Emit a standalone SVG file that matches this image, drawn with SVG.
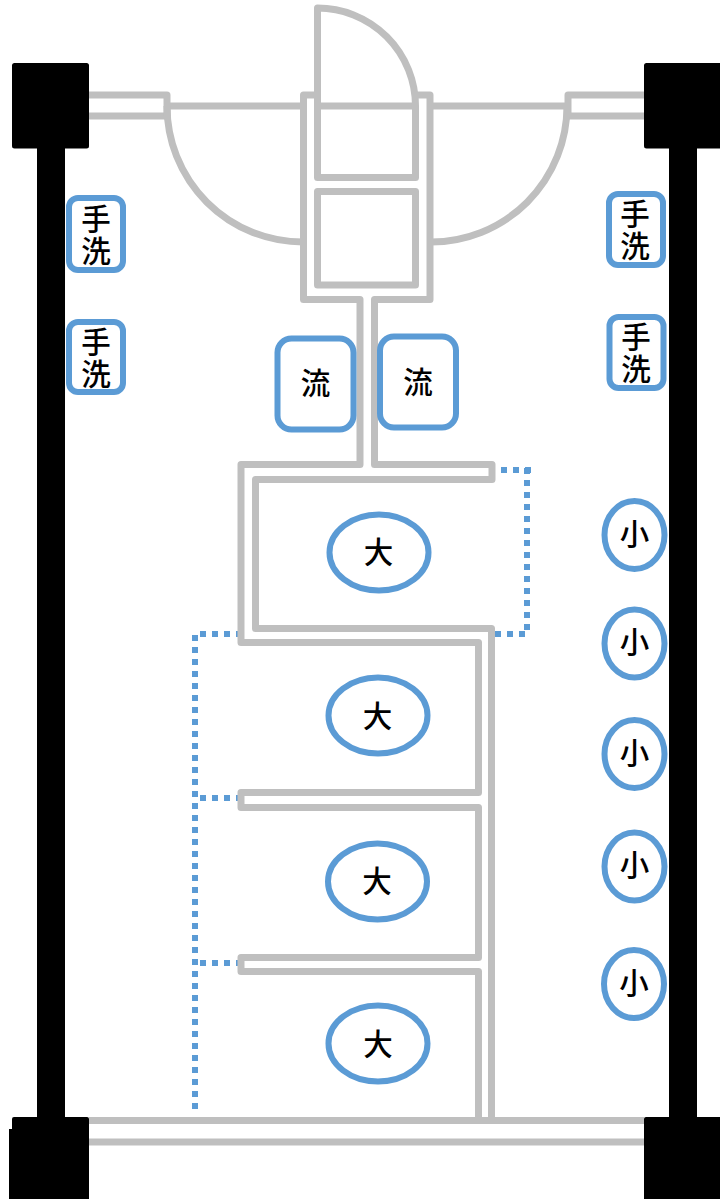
<svg xmlns="http://www.w3.org/2000/svg" width="720" height="1199" viewBox="0 0 720 1199">
<style>
.w{fill:none;stroke:#bfbfbf;stroke-width:7;stroke-linejoin:round;stroke-linecap:butt}
.d{fill:none;stroke:#5b9bd5;stroke-width:6;stroke-dasharray:6 6}
.b{fill:#000}
.n{fill:#fff;stroke:#5b9bd5;stroke-width:6}
.t{font-family:"Noto Sans CJK JP","Noto Sans",sans-serif;font-size:29.500px;font-weight:500;fill:#000;text-anchor:middle}
</style>
<rect width="720" height="1199" fill="#fff"/>
<g id="connectors">
<g id="dotted">
<path class="d" d="M489 470H531"/>
<path class="d" d="M527 468V630"/>
<path class="d" d="M525 634H495"/>
<path class="d" d="M200 634H238"/>
<path class="d" d="M195 635V1109"/>
<path class="d" d="M200 798H238"/>
<path class="d" d="M200 963H238"/>
</g>
<g id="walls">
<path class="w" d="M89 95H167V116M89 116H167"/>
<path class="w" d="M644 95H568V116M644 116H568"/>
<path class="w" d="M167 106H300M317 106H415M433 106H568"/>
<path class="w" d="M167 106A136 136 0 0 0 303 242"/>
<path class="w" d="M567 106A136 136 0 0 1 431 242"/>
<path class="w" d="M415.500 106A98 98 0 0 0 317.500 8V177.500H415.500V106"/>
<path class="w" d="M317.500 95H303.500V299.500H360V464.500H241V642.500H478.500V792.500H241V807.500H478.500V957.500H241V971.500H478.500V1121"/>
<path class="w" d="M415.500 95H430V299.500H374.500V464.500H492V479.500H255.500V628.500H491.500V1121"/>
<rect class="w" x="317.500" y="191.500" width="98" height="93.500"/>
<path class="w" d="M89 1120.500H644M89 1142H644"/>
</g>
</g>
<g id="pillars">
<rect class="b" x="37" y="100" width="28" height="1040"/>
<rect class="b" x="669" y="100" width="28" height="1040"/>
<rect class="b" x="12" y="63" width="77" height="85.500" rx="2.500"/>
<rect class="b" x="644" y="63" width="78" height="85.500" rx="2.500"/>
<path class="b" d="M12 1119Q12 1117 14 1117H87Q89 1117 89 1119V1199H9V1129H12Z"/>
<path class="b" d="M644 1119Q644 1117 646 1117H720V1199H644Z"/>
</g>
<g id="wash-left-1"><rect class="n" x="69" y="198" width="54" height="72" rx="9"/><text class="t" x="96" y="230">手<tspan x="96" y="262">洗</tspan></text></g>
<g id="wash-left-2"><rect class="n" x="69" y="322" width="54" height="70" rx="9"/><text class="t" x="96" y="353">手<tspan x="96" y="385">洗</tspan></text></g>
<g id="wash-right-1"><rect class="n" x="609" y="194" width="54" height="71" rx="9"/><text class="t" x="635" y="225">手<tspan x="635" y="257">洗</tspan></text></g>
<g id="wash-right-2"><rect class="n" x="609.500" y="317" width="54" height="71" rx="9"/><text class="t" x="636" y="348">手<tspan x="636" y="380">洗</tspan></text></g>
<g id="sink-1"><rect class="n" x="277.500" y="338.500" width="76" height="91" rx="14"/><text class="t" x="315.500" y="394">流</text></g>
<g id="sink-2"><rect class="n" x="380" y="336.500" width="76" height="91" rx="14"/><text class="t" x="418" y="392.500">流</text></g>
<g id="stall-1"><ellipse class="n" cx="379" cy="552.500" rx="49.500" ry="38"/><text class="t" x="378.500" y="563">大</text></g>
<g id="stall-2"><ellipse class="n" cx="378" cy="715.500" rx="49.500" ry="38"/><text class="t" x="377.500" y="727">大</text></g>
<g id="stall-3"><ellipse class="n" cx="377.500" cy="881.500" rx="49.500" ry="38"/><text class="t" x="377" y="892">大</text></g>
<g id="stall-4"><ellipse class="n" cx="378" cy="1043.500" rx="49.500" ry="38"/><text class="t" x="378" y="1055">大</text></g>
<g id="urinal-1"><ellipse class="n" cx="634.500" cy="535" rx="30" ry="34"/><text class="t" x="634.500" y="545">小</text></g>
<g id="urinal-2"><ellipse class="n" cx="634.500" cy="643.500" rx="30" ry="34"/><text class="t" x="634.500" y="653">小</text></g>
<g id="urinal-3"><ellipse class="n" cx="634.500" cy="754" rx="30" ry="34"/><text class="t" x="634.500" y="764">小</text></g>
<g id="urinal-4"><ellipse class="n" cx="634.500" cy="866.500" rx="30" ry="34"/><text class="t" x="634.500" y="876">小</text></g>
<g id="urinal-5"><ellipse class="n" cx="634" cy="984" rx="30" ry="34"/><text class="t" x="634" y="994">小</text></g>
</svg>
